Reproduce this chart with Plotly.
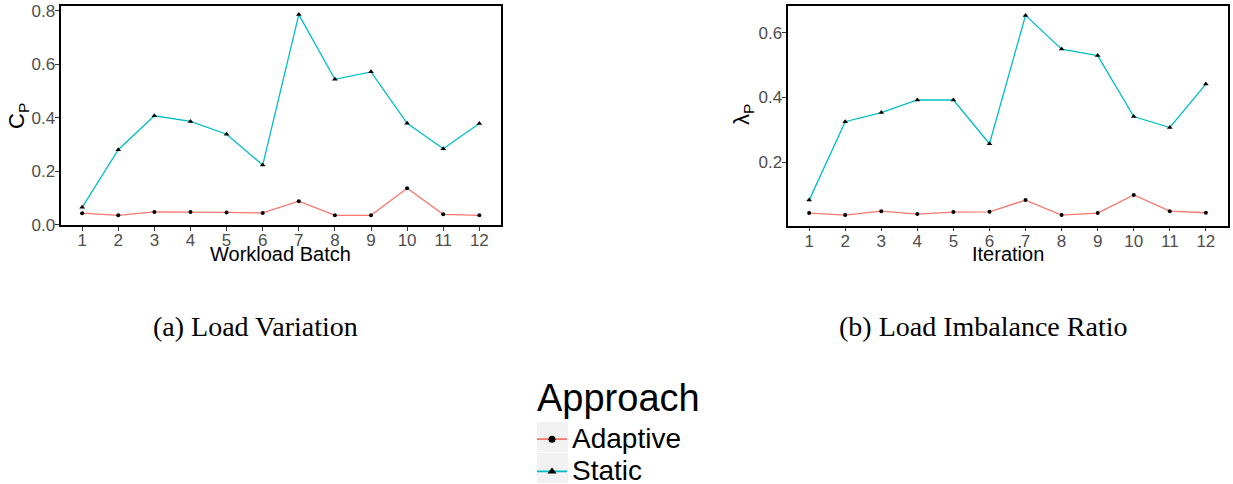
import plotly.graph_objects as go

W, H = 1233, 484

batches = list(range(1, 13))
cp_adaptive = [0.043, 0.035, 0.048, 0.048, 0.046, 0.044, 0.088, 0.035, 0.035, 0.136, 0.039, 0.035]
cp_static = [0.065, 0.280, 0.407, 0.386, 0.338, 0.223, 0.785, 0.543, 0.571, 0.379, 0.284, 0.378]

iterations = list(range(1, 13))
lam_adaptive = [0.043, 0.037, 0.049, 0.040, 0.046, 0.047, 0.083, 0.037, 0.043, 0.099, 0.049, 0.044]
lam_static = [0.083, 0.325, 0.353, 0.392, 0.392, 0.257, 0.653, 0.549, 0.529, 0.341, 0.307, 0.441]

series_names = ["Adaptive", "Static"]
legend_title = "Approach"

RED = "#F8766D"
CYAN = "#00BFC4"
FONT = "Liberation Sans"

fig = go.Figure()

def add(x, y, color, symbol, size, name, xa, ya):
    fig.add_trace(go.Scatter(
        x=x, y=y, mode="lines+markers", name=name, legendgroup=name,
        showlegend=False, xaxis=xa, yaxis=ya,
        line=dict(color=color, width=1.3),
        marker=dict(color="black", symbol=symbol, size=size),
    ))

add(batches, cp_adaptive, RED, "circle", 4, series_names[0], "x", "y")
add(batches, cp_static, CYAN, "triangle-up", 5, series_names[1], "x", "y")
add(iterations, lam_adaptive, RED, "circle", 4, series_names[0], "x2", "y2")
add(iterations, lam_static, CYAN, "triangle-up", 5, series_names[1], "x2", "y2")

# legend entries (no data, key glyphs only)
for name, color, symbol, size in [(series_names[0], RED, "circle", 7), (series_names[1], CYAN, "triangle-up", 8)]:
    fig.add_trace(go.Scatter(
        x=[None], y=[None], mode="lines+markers",
        name="<span style='font-size:28px'>%s</span>" % name, legendgroup=name,
        showlegend=True, line=dict(color=color, width=1.8),
        marker=dict(color="black", symbol=symbol, size=size),
    ))

def px_x(p):
    return min(1.0, max(0.0, p / W))

def px_y(p):
    return min(1.0, max(0.0, 1 - p / H))

axis_common = dict(
    showline=True, mirror=True, linecolor="black", linewidth=1.8,
    showgrid=False, zeroline=False, ticks="outside", ticklen=4,
    tickcolor="#333333", tickwidth=1, automargin=False,
    tickfont=dict(family=FONT, size=17, color="#4D4D4D"),
)

fig.update_layout(
    width=W, height=H,
    margin=dict(l=0, r=0, t=0, b=0, autoexpand=False),
    paper_bgcolor="white", plot_bgcolor="white",
    font=dict(family=FONT, color="black"),
    xaxis=dict(domain=[px_x(60.5), px_x(501)], range=[0.4, 12.6], tickmode="array",
               tickvals=batches, ticktext=[str(b) for b in batches], ticklabelstandoff=-5,
               anchor="y", **axis_common),
    yaxis=dict(domain=[px_y(225), px_y(6)], range=[-0.001, 0.817], tickvals=[0, 0.2, 0.4, 0.6, 0.8],
               tickformat=".1f", ticklabelstandoff=-4,
               anchor="x", **axis_common),
    xaxis2=dict(domain=[px_x(787.5), px_x(1227.5)], range=[0.4, 12.6], tickmode="array",
                tickvals=iterations, ticktext=[str(i) for i in iterations], ticklabelstandoff=-5,
                anchor="y2", **axis_common),
    yaxis2=dict(domain=[px_y(225.5), px_y(6)], range=[0.0047, 0.682], tickvals=[0.2, 0.4, 0.6],
                tickformat=".1f", ticklabelstandoff=-4,
                anchor="x2", **axis_common),
    legend=dict(
        x=px_x(532), y=px_y(418), xanchor="left", yanchor="top",
        font=dict(size=22.5, family=FONT, color="black"),
        bgcolor="rgba(0,0,0,0)", itemwidth=30, tracegroupgap=0,
    ),
)

def label(text, x, y, size, family=FONT, angle=0, xanchor="center"):
    fig.add_annotation(text=text, x=px_x(x), y=px_y(y), xref="paper", yref="paper",
                       showarrow=False, xanchor=xanchor, yanchor="middle", textangle=angle,
                       font=dict(family=family, size=size, color="black"))

label("Workload Batch", 280.5, 254, 20)
label("Iteration", 1008, 254, 20)
label("C<sub>P</sub>", 18, 116, 22, angle=-90)
label("λ<sub>P</sub>", 743, 115, 22, angle=-90)
label("(a) Load Variation", 255, 326, 28, family="Liberation Serif")
label("(b) Load Imbalance Ratio", 983, 326, 28, family="Liberation Serif")
label(legend_title, 535, 398, 38, xanchor="left")

# gray legend-key backgrounds
for top in (422, 453):
    fig.add_shape(type="rect", xref="paper", yref="paper", layer="below",
                  x0=px_x(537), x1=px_x(568), y0=px_y(top + 30), y1=px_y(top),
                  fillcolor="#F2F2F2", line=dict(width=0))

fig.write_html("out.html", config={"displayModeBar": False},
               post_script="document.body.style.margin='0px';")
